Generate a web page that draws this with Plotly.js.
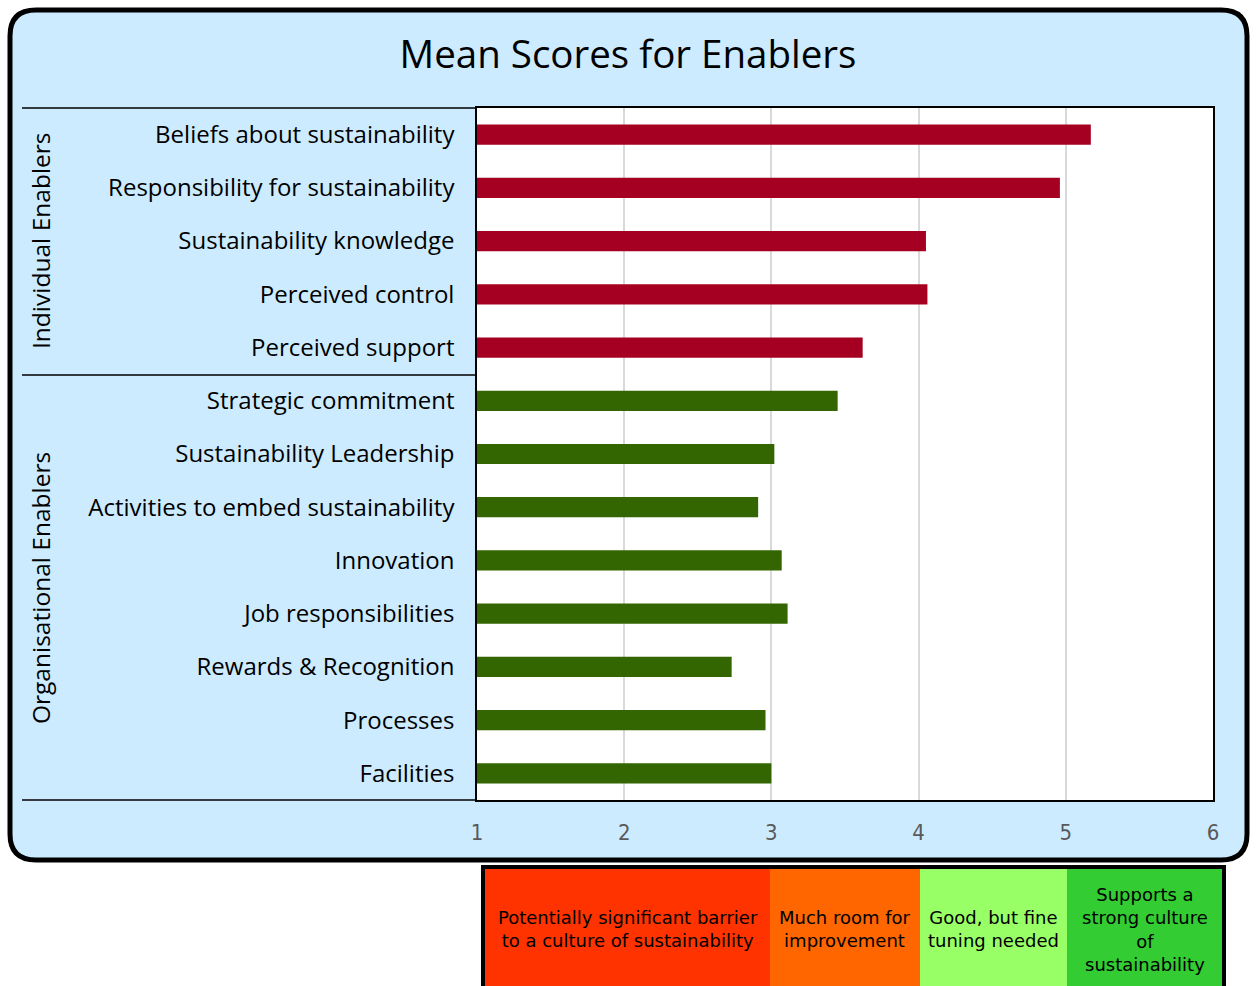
<!DOCTYPE html>
<html>
<head>
<meta charset="utf-8">
<script src="https://cdn.plot.ly/plotly-3.0.1.min.js"></script>
<style>
  body { margin: 0; background: #fff; }
  #chart { width: 1256px; height: 986px; }
</style>
</head>
<body>
<div id="chart"></div>
<script>
// Mean scores for enablers
var individualLabels = ['Beliefs about sustainability', 'Responsibility for sustainability',
  'Sustainability knowledge', 'Perceived control', 'Perceived support'];
var individualScores = [5.17, 4.96, 4.05, 4.06, 3.62];

var orgLabels = ['Strategic commitment', 'Sustainability Leadership',
  'Activities to embed sustainability', 'Innovation', 'Job responsibilities',
  'Rewards & Recognition', 'Processes', 'Facilities'];
var orgScores = [3.45, 3.02, 2.91, 3.07, 3.11, 2.73, 2.96, 3.00];

var bandTexts = ['Potentially significant barrier<br>to a culture of sustainability',
  'Much room for<br>improvement', 'Good, but fine<br>tuning needed',
  'Supports a<br>strong culture<br>of<br>sustainability'];
var bandColors = ['#FF3300', '#FF6600', '#99FF66', '#33CC33'];

var W = 1256, H = 986;
var L = 477, R = 1213, T = 108, B = 800;
// pixel -> paper helpers for the decoration shapes
function px(x) { return (x - L) / (R - L); }
function py(y) { return (B - y) / (B - T); }

var allLabels = individualLabels.concat(orgLabels);
var labelFont = 'Open Sans, sans-serif';

// bars start at 1 (axis begins at 1)
var trace1 = {
  type: 'bar', orientation: 'h',
  x: individualScores.map(function (v) { return v - 1; }), y: individualLabels,
  base: 1, width: 0.38,
  marker: {color: '#A50021'},
  customdata: individualScores, hovertemplate: '%{y}: %{customdata}<extra></extra>'
};
var trace2 = {
  type: 'bar', orientation: 'h',
  x: orgScores.map(function (v) { return v - 1; }), y: orgLabels,
  base: 1, width: 0.38,
  marker: {color: '#336600'},
  customdata: orgScores, hovertemplate: '%{y}: %{customdata}<extra></extra>'
};

// rounded outer frame
var x0 = 10, x1 = 1247, y0 = 10, y1 = 860, r = 26;
function pt(x, y) { return px(x) + ',' + py(y); }
var framePath = 'M' + pt(x0 + r, y0) + ' L' + pt(x1 - r, y0) +
  ' Q' + pt(x1, y0) + ' ' + pt(x1, y0 + r) +
  ' L' + pt(x1, y1 - r) + ' Q' + pt(x1, y1) + ' ' + pt(x1 - r, y1) +
  ' L' + pt(x0 + r, y1) + ' Q' + pt(x0, y1) + ' ' + pt(x0, y1 - r) +
  ' L' + pt(x0, y0 + r) + ' Q' + pt(x0, y0) + ' ' + pt(x0 + r, y0) + ' Z';

var shapes = [
  {type: 'path', xref: 'paper', yref: 'paper', path: framePath,
   fillcolor: '#CCEBFF', line: {color: '#000', width: 5}, layer: 'below'},
  {type: 'rect', xref: 'paper', yref: 'paper', x0: 0, x1: 1, y0: 0, y1: 1,
   fillcolor: '#fff', line: {width: 0}, layer: 'below'},
  {type: 'line', xref: 'paper', yref: 'paper', x0: px(22), x1: 0, y0: 1, y1: 1,
   line: {color: '#000', width: 1.5}},
  {type: 'line', xref: 'paper', yref: 'paper', x0: px(22), x1: 0, y0: py(375), y1: py(375),
   line: {color: '#000', width: 1.5}},
  {type: 'line', xref: 'paper', yref: 'paper', x0: px(22), x1: 0, y0: 0, y1: 0,
   line: {color: '#000', width: 1.5}},
  // legend box
  {type: 'rect', xref: 'paper', yref: 'paper', x0: px(481), x1: px(1226), y0: py(865), y1: py(990),
   fillcolor: '#000', line: {width: 0}}
];

var annotations = [
  {text: 'Individual Enablers', xref: 'paper', yref: 'paper', x: px(40), y: py(241),
   xanchor: 'center', yanchor: 'middle',
   textangle: -90, showarrow: false, font: {family: labelFont, size: 24.5, color: '#000'}},
  {text: 'Organisational Enablers', xref: 'paper', yref: 'paper', x: px(40), y: py(588),
   xanchor: 'center', yanchor: 'middle',
   textangle: -90, showarrow: false, font: {family: labelFont, size: 24.5, color: '#000'}}
];

var segPx = [485, 770, 920, 1067, 1222];
for (var i = 0; i < bandTexts.length; i++) {
  shapes.push({type: 'rect', xref: 'paper', yref: 'paper',
    x0: px(segPx[i]), x1: px(segPx[i + 1]), y0: py(869), y1: py(990),
    fillcolor: bandColors[i], line: {width: 0}});
  annotations.push({text: bandTexts[i], xref: 'paper', yref: 'paper',
    x: (px(segPx[i]) + px(segPx[i + 1])) / 2, y: py(929),
    xanchor: 'center', yanchor: 'middle',
    showarrow: false, align: 'center',
    font: {family: 'DejaVu Sans, sans-serif', size: 18, color: '#000'}});
}

var layout = {
  width: W, height: H,
  margin: {l: L, r: W - R, t: T, b: H - B},
  paper_bgcolor: '#fff',
  plot_bgcolor: 'rgba(0,0,0,0)',
  showlegend: false,
  barmode: 'overlay',
  title: {text: 'Mean Scores for Enablers', xref: 'container', x: 0.5, xanchor: 'center',
    yref: 'container', y: 1 - 55 / H, yanchor: 'middle',
    font: {family: labelFont, size: 38.5, color: '#000'}},
  xaxis: {range: [1, 6], dtick: 1, tick0: 1, showgrid: true, gridcolor: '#d9d9d9', gridwidth: 1.5,
    zeroline: false, showline: true, linecolor: '#000', linewidth: 1.5, mirror: true,
    ticks: '', ticklabelstandoff: 12,
    tickfont: {family: 'DejaVu Sans Condensed, sans-serif', size: 22, color: '#595959'}},
  yaxis: {type: 'category', categoryorder: 'array', categoryarray: allLabels,
    autorange: 'reversed', showgrid: false, zeroline: false,
    showline: true, linecolor: '#000', linewidth: 1.5, mirror: true,
    ticks: '', ticklabelstandoff: 16,
    tickfont: {family: labelFont, size: 24, color: '#000'}},
  shapes: shapes,
  annotations: annotations
};

Plotly.newPlot('chart', [trace1, trace2], layout, {displayModeBar: false});
</script>
</body>
</html>
